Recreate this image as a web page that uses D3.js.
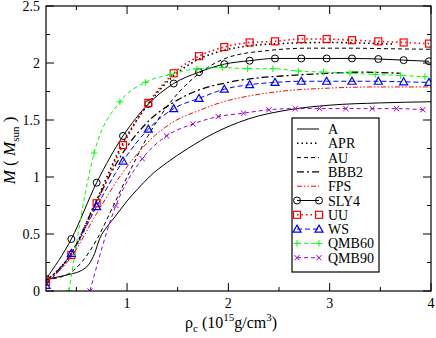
<!DOCTYPE html>
<html><head><meta charset="utf-8">
<script src="https://cdn.jsdelivr.net/npm/d3@7"></script>
<style>
body{margin:0;background:#fff;}
svg text{font-family:"Liberation Serif","Times New Roman",serif;}
</style></head>
<body><svg id="c" width="436" height="338"></svg>
<script>
// ---- data (rho_c in 10^15 g/cm^3, M in Msun) ----
const seriesNames = ["A","APR","AU","BBB2","FPS","SLY4","UU","WS","QMB60","QMB90"];
const aRho = [0.2,0.3,0.45,0.55,0.62,0.68,0.73,0.8,0.88,1.0,1.1,1.23,1.4,1.6,1.85,2.2,2.6,3.0,3.5,4.0];
const aM   = [0.10,0.12,0.15,0.18,0.23,0.33,0.46,0.56,0.65,0.79,0.89,1.01,1.13,1.25,1.38,1.51,1.59,1.63,1.65,1.66];
const aprRho = [0.2,0.45,0.7,0.96,1.2,1.45,1.7,1.95,2.2,2.5,3.0,3.3,3.64];
const aprM   = [0.09,0.33,0.8,1.3,1.63,1.88,2.03,2.11,2.15,2.17,2.18,2.175,2.165];
const auRho = [0.2,0.4,0.55,0.7,0.85,1.0,1.2,1.45,1.7,2.0,2.4,2.8,3.2,3.6,4.0];
const auM   = [0.1,0.14,0.25,0.45,0.72,1.0,1.35,1.68,1.9,2.05,2.11,2.13,2.13,2.125,2.12];
const bbbRho = [0.2,0.45,0.7,0.95,1.2,1.45,1.7,2.0,2.3,2.6,3.0,3.3,3.69];
const bbbM   = [0.09,0.33,0.79,1.2,1.48,1.65,1.76,1.83,1.87,1.89,1.91,1.92,1.91];
const fpsRho = [0.2,0.45,0.7,0.95,1.2,1.45,1.7,1.95,2.2,2.5,3.0,3.5,4.0];
const fpsM   = [0.07,0.30,0.68,1.03,1.30,1.48,1.58,1.66,1.71,1.75,1.78,1.79,1.79];
const sly4Rho = [0.2,0.45,0.7,0.96,1.21,1.46,1.71,1.96,2.21,2.46,2.72,2.97,3.22,3.48,3.73,3.98];
const sly4M   = [0.105,0.456,0.95,1.36,1.64,1.82,1.92,1.99,2.02,2.04,2.04,2.04,2.04,2.035,2.025,2.015];
const uuRho = [0.2,0.45,0.7,0.96,1.21,1.46,1.71,1.96,2.21,2.46,2.72,2.97,3.22,3.48,3.73,3.98];
const uuM   = [0.08,0.316,0.77,1.28,1.65,1.91,2.06,2.14,2.18,2.19,2.21,2.21,2.20,2.19,2.18,2.17];
const wsRho = [0.2,0.45,0.7,0.96,1.21,1.46,1.71,1.96,2.21,2.46,2.72,2.97,3.22,3.48,3.73,3.98];
const wsM   = [0.05,0.33,0.74,1.14,1.42,1.60,1.69,1.77,1.81,1.83,1.84,1.84,1.84,1.84,1.835,1.83];
const q60Rho = [0.427,0.675,0.93,1.18,1.43,1.69,1.94,2.19,2.44,2.69,2.94,3.2,3.45,3.7,3.94];
const q60M   = [0,1.21,1.66,1.83,1.90,1.95,1.96,1.95,1.95,1.93,1.92,1.91,1.90,1.89,1.88];
const q90Rho = [0.634,0.89,1.15,1.39,1.65,1.90,2.15,2.40,2.66,2.90,3.16,3.42,3.66,3.92];
const q90M   = [0,0.75,1.16,1.36,1.465,1.53,1.56,1.59,1.60,1.60,1.60,1.60,1.60,1.59];
const xTicks = [1,2,3,4];
const yTicks = [0,0.5,1,1.5,2,2.5];

// ---- styling table ----
const series = [
 {name:"A",    rho:aRho,  m:aM,   color:"#000", dash:null,            marker:null},
 {name:"APR",  rho:aprRho,m:aprM, color:"#000", dash:"1.5,3",         marker:null, width:1.6},
 {name:"AU",   rho:auRho, m:auM,  color:"#000", dash:"4,3",           marker:null},
 {name:"BBB2", rho:bbbRho,m:bbbM, color:"#000", dash:"7,3,2,3",       marker:null, width:1.3},
 {name:"FPS",  rho:fpsRho,m:fpsM, color:"#ff0000", dash:"5,2,1.5,2,1.5,2", marker:null},
 {name:"SLY4", rho:sly4Rho,m:sly4M,color:"#000", dash:null,           marker:"circle"},
 {name:"UU",   rho:uuRho, m:uuM,  color:"#ff0000", dash:"1.5,3",      marker:"square", width:1.6},
 {name:"WS",   rho:wsRho, m:wsM,  color:"#0000ff", dash:"5,3",        marker:"triangle"},
 {name:"QMB60",rho:q60Rho,m:q60M, color:"#00ff00", dash:"4,3",        marker:"plus"},
 {name:"QMB90",rho:q90Rho,m:q90M, color:"#9400d3", dash:"4,3",        marker:"cross"}
];

const svg = d3.select("#c");
const L=46, R=431, T=6, B=291;
const x = d3.scaleLinear().domain([0.2,4]).range([L,R]);
const y = d3.scaleLinear().domain([0,2.5]).range([B,T]);

svg.append("defs").append("clipPath").attr("id","clip")
  .append("rect").attr("x",L).attr("y",T).attr("width",R-L).attr("height",B-T);

const line = d3.line().x(d=>x(d[0])).y(d=>y(d[1])).curve(d3.curveMonotoneX);
const g = svg.append("g").attr("clip-path","url(#clip)");

function drawMarker(sel, type, color, cx, cy){
  const s = 3.3;
  if(type==="circle") sel.append("circle").attr("cx",cx).attr("cy",cy).attr("r",3.5).attr("fill","none").attr("stroke",color).attr("stroke-width",1);
  else if(type==="square") sel.append("rect").attr("x",cx-3.5).attr("y",cy-3.5).attr("width",7).attr("height",7).attr("fill","none").attr("stroke",color).attr("stroke-width",1.2);
  else if(type==="triangle") sel.append("path").attr("d",`M${cx},${cy-4}L${cx+4},${cy+3}L${cx-4},${cy+3}Z`).attr("fill","none").attr("stroke",color).attr("stroke-width",1.2);
  else if(type==="plus") sel.append("path").attr("d",`M${cx-s},${cy}H${cx+s}M${cx},${cy-s}V${cy+s}`).attr("stroke",color).attr("stroke-width",1);
  else if(type==="cross") sel.append("path").attr("d",`M${cx-2.6},${cy-2.6}L${cx+2.6},${cy+2.6}M${cx-2.6},${cy+2.6}L${cx+2.6},${cy-2.6}`).attr("stroke",color).attr("stroke-width",1);
}

series.forEach(s=>{
  const pts = s.rho.map((r,i)=>[r,s.m[i]]);
  g.append("path").datum(pts).attr("d",line).attr("fill","none")
   .attr("stroke",s.color).attr("stroke-width",s.width||1)
   .attr("stroke-dasharray",s.dash);
  if(s.marker) pts.forEach(p=>drawMarker(g,s.marker,s.color,x(p[0]),y(p[1])));
});

// frame
svg.append("rect").attr("x",L).attr("y",T).attr("width",R-L).attr("height",B-T)
  .attr("fill","none").attr("stroke","#000").attr("stroke-width",1.2);

// ticks (inward, all four sides)
const ax = svg.append("g").attr("stroke","#000").attr("stroke-width",1);
d3.range(0.5,4.01,0.5).forEach(v=>{
  const major = Math.abs(v-Math.round(v))<1e-6;
  const len = major?8:4;
  ax.append("line").attr("x1",x(v)).attr("x2",x(v)).attr("y1",B).attr("y2",B-len);
  ax.append("line").attr("x1",x(v)).attr("x2",x(v)).attr("y1",T).attr("y2",T+len);
});
d3.range(0,2.51,0.25).forEach(v=>{
  const major = Math.abs(v*2-Math.round(v*2))<1e-6;
  const len = major?8:4;
  ax.append("line").attr("x1",L).attr("x2",L+len).attr("y1",y(v)).attr("y2",y(v));
  ax.append("line").attr("x1",R).attr("x2",R-len).attr("y1",y(v)).attr("y2",y(v));
});

// tick labels
svg.append("g").selectAll("text").data(xTicks).join("text")
  .attr("x",d=>x(d)).attr("y",B+17).attr("text-anchor","middle")
  .attr("font-size",14).text(d=>d);
svg.append("g").selectAll("text").data(yTicks).join("text")
  .attr("x",L-6).attr("y",d=>y(d)+5).attr("text-anchor","end")
  .attr("font-size",14).text(d=>d);

// axis titles
const xt = svg.append("text").attr("x",185).attr("y",328).attr("font-size",16);
xt.append("tspan").text("ρ");
xt.append("tspan").attr("font-size",11).attr("dy",4).text("c");
xt.append("tspan").attr("dy",-4).text(" (10");
xt.append("tspan").attr("font-size",11).attr("dy",-7).text("15");
xt.append("tspan").attr("dy",7).text("g/cm");
xt.append("tspan").attr("font-size",11).attr("dy",-7).text("3");
xt.append("tspan").attr("dy",7).text(")");

const yt = svg.append("text").attr("transform",`translate(15,${(T+B)/2+2}) rotate(-90)`)
  .attr("text-anchor","middle").attr("font-size",17);
yt.append("tspan").attr("font-style","italic").text("M");
yt.append("tspan").text(" ( ");
yt.append("tspan").attr("font-style","italic").text("M");
yt.append("tspan").attr("font-size",11).attr("dy",4).text("sun");
yt.append("tspan").attr("dy",-4).text(" )");

// legend
const lx=292, ly=118, lw=87, lh=154;
svg.append("rect").attr("x",lx).attr("y",ly).attr("width",lw).attr("height",lh)
  .attr("fill","#fff").attr("stroke","#000").attr("stroke-width",1.2);
series.forEach((s,i)=>{
  const yy = 129 + i*14.3;
  svg.append("line").attr("x1",297).attr("x2",319).attr("y1",yy).attr("y2",yy)
    .attr("stroke",s.color).attr("stroke-width",s.width||1).attr("stroke-dasharray",s.dash);
  if(s.marker){ drawMarker(svg,s.marker,s.color,297,yy); drawMarker(svg,s.marker,s.color,319,yy); }
  svg.append("text").attr("x",328).attr("y",yy+5).attr("font-size",14).text(s.name);
});
</script></body></html>
